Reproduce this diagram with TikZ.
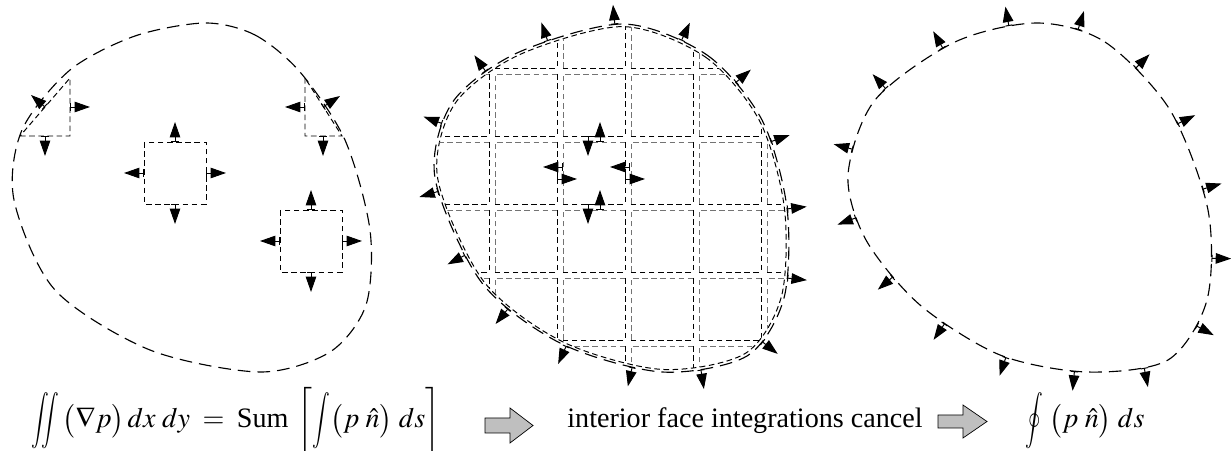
\documentclass[tikz,border=0pt]{standalone}
\usepackage{amsmath}
\usepackage{graphicx}
\usepackage{mathptmx}
\usepackage{fontspec}
\setmainfont{Liberation Serif}
\usetikzlibrary{arrows.meta,decorations.markings}

% narrow, upright-looking integral signs
\newcommand{\slimop}[1]{\mathop{\scalebox{0.7}[1]{$\displaystyle#1$}}}

% outline of the discretised region, relative to its centre
\newcommand{\midrim}{plot[smooth cycle] coordinates {(11,-174) (95,-143) (150,-78) (175,10) (172,100) (135,158) (50,174) (-50,146) (-130,85) (-177,-20) (-160,-95) (-95,-145)}}

\tikzset{
  rim/.style={line width=0.8pt, dash pattern=on 9pt off 5pt},
  facet/.style={line width=0.7pt, dash pattern=on 4pt off 2.5pt},
  normal/.style={solid, line width=0.7pt, {Bar[width=5pt]}-{Triangle[length=11pt,width=7.5pt]}},
  normals/.style={postaction={decorate}, decoration={markings,
    mark=between positions 0.036 and 1 step 0.0625 with {\draw[normal] (0pt,0pt) -- (0pt,14pt);}}},
  blockarrow/.style={draw, line width=0.5pt, fill=black!25}
}

\begin{document}
\begin{tikzpicture}[x=0.025cm, y=-0.025cm, font=\fontsize{20}{24}\selectfont]
\useasboundingbox (0,0) rectangle (1231,451);

% left: region with a few sample cells
\draw[rim] plot[smooth cycle] coordinates {(205,23) (255,35) (300,72) (345,140) (370,230) (366,305) (330,352) (260,372) (150,350) (55,290) (14,200) (22,130) (70,70) (135,36)};
\draw[facet] (20,136) -- (70,136) -- (70,78) -- cycle;
\draw[facet] (305,78) -- (305,136) -- (342,136) -- cycle;
\draw[facet] (144,142) rectangle (206,204);
\draw[facet] (280,210) rectangle (342,272);
\foreach \a/\b in {{70,107}/{90,107}, {45,136}/{45,156}, {45,107}/{31,95},
                   {305,107}/{285,107}, {323,136}/{323,156}, {323,107}/{340,96},
                   {175,142}/{175,122}, {175,204}/{175,224}, {144,173}/{124,173}, {206,173}/{226,173},
                   {311,210}/{311,190}, {311,272}/{311,292}, {280,241}/{260,241}, {342,241}/{362,241}}
  \draw[normal] (\a) -- (\b);

% middle: region filled with cells
\draw[rim, normals, shift={(612,198)}] \midrim;
\draw[facet, shift={(612,198)}, scale=0.985] \midrim;
\begin{scope}
  \clip[shift={(612,198)}, scale=0.985] \midrim;
  \foreach \x in {424,492,...,764}
    \foreach \y in {3,71,...,343} {
      \draw[facet, black!55] ({\x+3},{\y+65}) |- ({\x+65},{\y+3});
      \draw[facet] ({\x+65},{\y+3}) |- ({\x+3},{\y+65});
    }
\end{scope}
\foreach \a/\b in {{600,142}/{600,122}, {588,136}/{588,156}, {563,167}/{543,167}, {557,179}/{577,179},
                   {630,167}/{610,167}, {625,179}/{645,179}, {600,210}/{600,190}, {588,204}/{588,224}}
  \draw[normal] (\a) -- (\b);

% right: only the boundary is left
\draw[rim, normals] plot[smooth cycle] coordinates {(1037,23) (1105,42) (1170,110) (1208,210) (1207,300) (1168,360) (1087,372) (1000,355) (920,305) (866,240) (848,175) (875,100) (955,42)};

% equations
\node[anchor=base] (lhs) at (236,428) {$\displaystyle \slimop{\iint}\,\bigl(\nabla p\bigr)\,dx\;dy\;=\;\text{Sum}\;\left[\slimop{\int}\bigl(p\;\hat{n}\bigr)\;ds\right]$};
\draw[blockarrow] (485,418) -- (510,418) -- (510,408) -- (533,425.5) -- (510,443) -- (510,433) -- (485,433) -- cycle;
\node[anchor=base] (cancel) at (745,428) {interior face integrations cancel};
\draw[blockarrow] (938,415) -- (963,415) -- (963,405) -- (987,421.5) -- (963,438) -- (963,428) -- (938,428) -- cycle;
\node[anchor=base] (rhs) at (1085,428) {$\displaystyle \slimop{\oint}\;\bigl(p\;\hat{n}\bigr)\;ds$};
\end{tikzpicture}
\end{document}
